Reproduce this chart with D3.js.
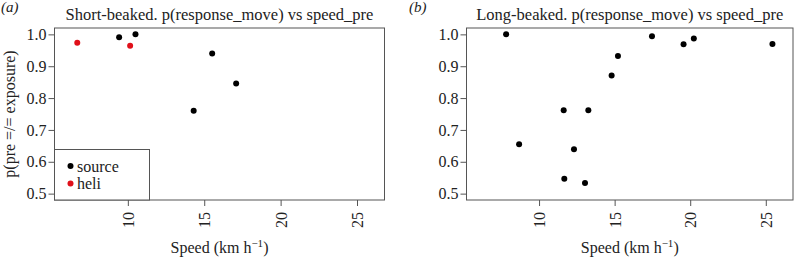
<!DOCTYPE html>
<html>
<head>
<meta charset="utf-8">
<script src="https://cdn.jsdelivr.net/npm/d3@7"></script>
<style>
  body { margin: 0; background: #fff; }
</style>
</head>
<body>
<div id="chart"></div>
<script>
// Short-beaked, source exposures
const shortSourceSpeed = [9.43, 10.5, 15.52, 17.09, 14.31];
const shortSourceP = [0.991, 1.0, 0.94, 0.846, 0.760];
// Short-beaked, helicopter exposures
const shortHeliSpeed = [6.69, 10.15];
const shortHeliP = [0.974, 0.964];
// Long-beaked, source exposures
const longSpeed = [7.82, 8.68, 11.63, 11.67, 12.31, 13.04, 13.26, 14.80, 15.22, 17.47, 19.56, 20.24, 25.44];
const longP = [1.0, 0.655, 0.762, 0.547, 0.639, 0.533, 0.762, 0.871, 0.932, 0.994, 0.969, 0.987, 0.970];

const xTicks = [10, 15, 20, 25];
const yTicks = [0.5, 0.6, 0.7, 0.8, 0.9, 1.0];
const xDomain = [5.2, 26.8];
const yDomain = [0.48, 1.02];

const serif = "Liberation Serif";
const width = 794, height = 259;
const svg = d3.select("#chart").append("svg")
    .attr("width", width)
    .attr("height", height)
    .attr("font-family", serif);

const boxColor = "#555";
const textColor = "#222";
const redColor = "#e0101a";

function drawPanel(opts) {
    const x = d3.scaleLinear().domain(xDomain).range([opts.left, opts.right]);
    const y = d3.scaleLinear().domain(yDomain).range([opts.bottom, opts.top]);
    const g = svg.append("g");

    // Plot box
    g.append("rect")
        .attr("x", opts.left)
        .attr("y", opts.top)
        .attr("width", opts.right - opts.left)
        .attr("height", opts.bottom - opts.top)
        .attr("fill", "none")
        .attr("stroke", boxColor)
        .attr("stroke-width", 1);

    // Y axis
    const yAxis = g.append("g")
        .attr("transform", `translate(${opts.left},0)`)
        .call(d3.axisLeft(y).tickValues(yTicks).tickSize(6).tickPadding(2).tickFormat(d3.format(".1f")))
        .attr("font-family", serif)
        .attr("font-size", 16);
    yAxis.select(".domain").remove();
    yAxis.selectAll(".tick line").attr("stroke", boxColor);
    yAxis.selectAll("text").attr("fill", textColor);

    // X axis, labels rotated
    const xAxis = g.append("g")
        .attr("transform", `translate(0,${opts.bottom})`)
        .call(d3.axisBottom(x).tickValues(xTicks).tickSize(6))
        .attr("font-family", serif)
        .attr("font-size", 16);
    xAxis.select(".domain").remove();
    xAxis.selectAll(".tick line").attr("stroke", boxColor);
    xAxis.selectAll("text")
        .attr("fill", textColor)
        .attr("text-anchor", "end")
        .attr("transform", "rotate(-90)")
        .attr("x", -12)
        .attr("y", 0)
        .attr("dy", "0.35em");

    // Title
    g.append("text")
        .attr("x", (opts.left + opts.right) / 2)
        .attr("y", 20)
        .attr("text-anchor", "middle")
        .attr("font-size", 16.5)
        .attr("fill", textColor)
        .text(opts.title);

    // Panel letter
    g.append("text")
        .attr("x", opts.letterX)
        .attr("y", 12)
        .attr("font-size", 15)
        .attr("font-style", "italic")
        .attr("fill", textColor)
        .text(opts.letter);

    // X label with superscript
    const xl = g.append("text")
        .attr("x", (opts.left + opts.right) / 2)
        .attr("y", 253)
        .attr("text-anchor", "middle")
        .attr("font-size", 16)
        .attr("fill", textColor);
    xl.append("tspan").text("Speed (km h");
    xl.append("tspan").attr("dy", -6).attr("font-size", 11).text("\u22121");
    xl.append("tspan").attr("dy", 6).text(")");

    // Points
    opts.series.forEach(s => {
        g.selectAll(null)
            .data(d3.zip(s.xs, s.ys))
            .join("circle")
            .attr("cx", d => x(d[0]))
            .attr("cy", d => y(d[1]))
            .attr("r", 3)
            .attr("fill", s.color);
    });

    return { g, x, y };
}

const a = drawPanel({
    left: 54.5, right: 384.5, top: 28, bottom: 200,
    title: "Short-beaked. p(response_move) vs speed_pre",
    letter: "(a)", letterX: 1,
    series: [
        { xs: shortSourceSpeed, ys: shortSourceP, color: "#000" },
        { xs: shortHeliSpeed, ys: shortHeliP, color: redColor }
    ]
});

drawPanel({
    left: 466.5, right: 793, top: 28, bottom: 200,
    title: "Long-beaked. p(response_move) vs speed_pre",
    letter: "(b)", letterX: 409,
    series: [
        { xs: longSpeed, ys: longP, color: "#000" }
    ]
});

// Y axis label (panel a only)
svg.append("text")
    .attr("transform", `translate(15,${(28 + 200) / 2}) rotate(-90)`)
    .attr("text-anchor", "middle")
    .attr("font-size", 16)
    .attr("fill", textColor)
    .text("p(pre =/= exposure)");

// Legend in panel a
const legendItems = ["source", "heli"];
const legendColors = ["#000", redColor];
const legend = a.g.append("g");
legend.append("rect")
    .attr("x", 54.5)
    .attr("y", 149.5)
    .attr("width", 95)
    .attr("height", 200 - 149.5)
    .attr("fill", "#fff")
    .attr("stroke", boxColor);
legendItems.forEach((name, i) => {
    const yy = 166 + i * 17.5;
    legend.append("circle")
        .attr("cx", 70.5)
        .attr("cy", yy)
        .attr("r", 3)
        .attr("fill", legendColors[i]);
    legend.append("text")
        .attr("x", 77)
        .attr("y", yy)
        .attr("dy", "0.35em")
        .attr("font-size", 16)
        .attr("fill", textColor)
        .text(name);
});
</script>
</body>
</html>
